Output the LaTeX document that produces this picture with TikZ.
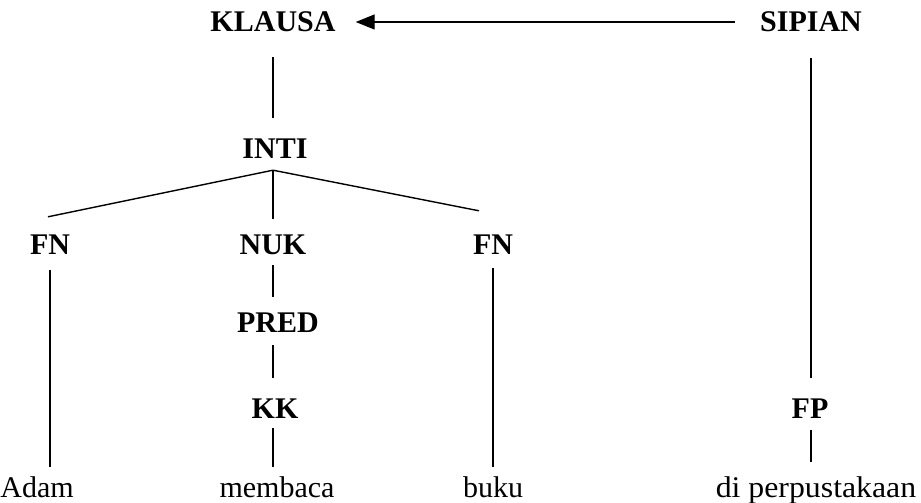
\documentclass[tikz,border=0pt]{standalone}
\usepackage{fontspec}
\setmainfont{Liberation Serif}
\usetikzlibrary{arrows.meta}

\tikzset{
  word/.style={anchor=base, inner sep=0pt, text height=20pt, text depth=0pt},
  cat/.style={word, font=\fontsize{30}{36}\selectfont\bfseries},
  branch/.style={line width=1.4pt}
}

\begin{document}
\begin{tikzpicture}[x=1pt,y=-1pt,font=\fontsize{30}{36}\selectfont]
\useasboundingbox (0,0) rectangle (921,503);

% top row
\node [cat] (klausa) at (273,32) {KLAUSA};
\node [cat] (sipian) at (811,32) {SIPIAN};

\draw [branch, -{Triangle[length=19pt,width=15pt]}, shorten <=25pt, shorten >=20pt] (sipian.west)--(klausa.east);

% inti and its branches
\node [cat] (inti) at (275,158) {INTI};
\draw [branch, shorten <=25pt, shorten >=20pt] (klausa.south)--(klausa.south |- inti.north);
\coordinate (fork) at ([shift={(-2,12)}]inti.south);

\node [cat] (fnA) at (50,254) {FN};
\node [cat] (nuk) at (273,254) {NUK};
\node [cat] (fnB) at (493,254) {FN};

\draw [branch] (fork)--([shift={(-2,-17)}]fnA.north);
\draw [branch, shorten >=15pt] (fork)--(fork |- nuk.north);
\draw [branch] (fork)--([shift={(-14,-23)}]fnB.north);

  % nukleus column
\node [cat] (pred) at (278,332) {PRED};
\node [cat] (kk) at (275,418) {KK};
\draw [branch, shorten <=11pt, shorten >=15pt] (nuk.south)--(nuk.south |- pred.north);
\draw [branch, shorten <=13pt, shorten >=20pt] (nuk.south |- pred.south)--(nuk.south |- kk.north);

  % sipian column
\node [cat] (fp) at (810,418) {FP};
\draw [branch, shorten <=26pt, shorten >=20pt] (sipian.south)--(sipian.south |- fp.north);

% words
\node [word] (adam) at (37,497) {Adam};
\node [word] (membaca) at (277,497) {membaca};
\node [word] (buku) at (493,497) {buku};
\node [word, xscale=1.06] (tempat) at (816,497) {di perpustakaan};

\draw [branch, shorten <=16pt, shorten >=10pt] (fnA.south)--(fnA.south |- adam.north);
\draw [branch, shorten <=10pt, shorten >=10pt] (nuk.south |- kk.south)--(nuk.south |- membaca.north);
\draw [branch, shorten <=14pt, shorten >=10pt] (fnB.south)--(fnB.south |- buku.north);
\draw [branch, shorten <=12pt, shorten >=15pt] (sipian.south |- fp.south)--(sipian.south |- tempat.north);

\end{tikzpicture}
\end{document}
